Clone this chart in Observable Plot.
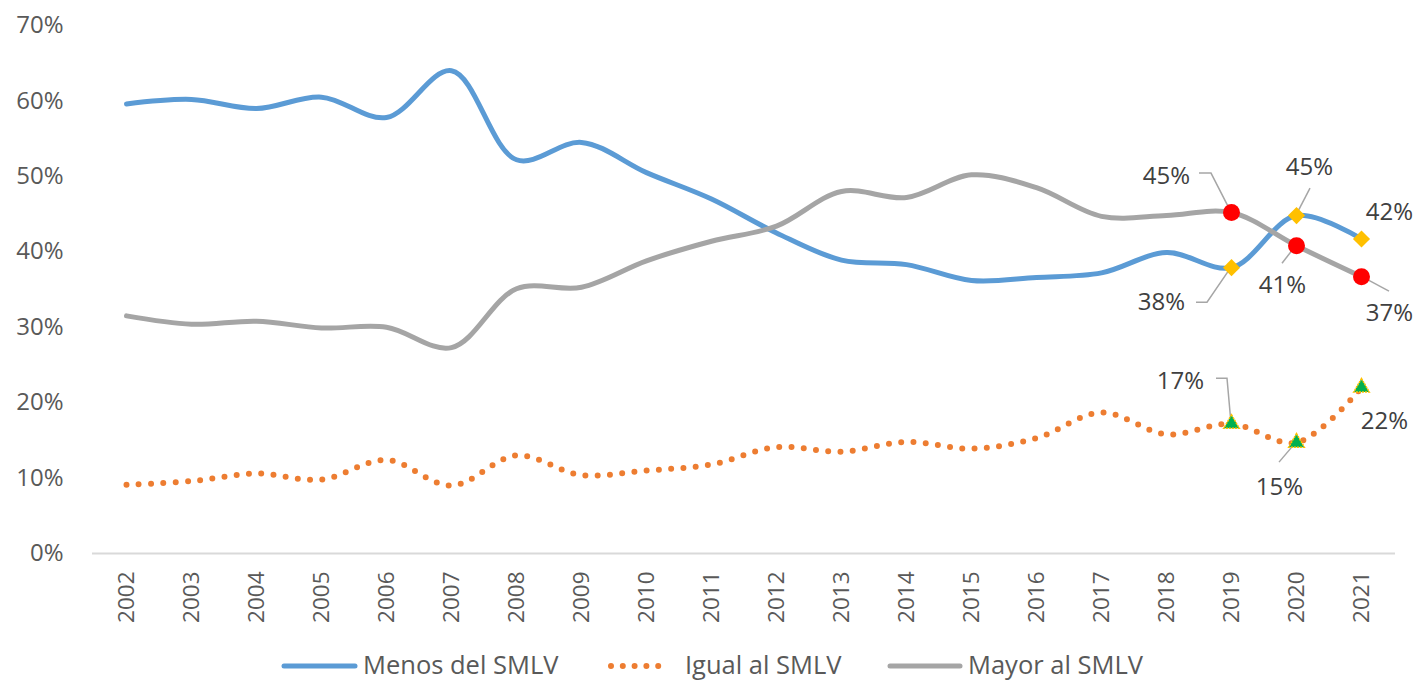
<!DOCTYPE html>
<html><head><meta charset="utf-8">
<script src="https://cdn.jsdelivr.net/npm/d3@7"></script>
<script src="https://cdn.jsdelivr.net/npm/@observablehq/plot@0.6"></script>
<style>
body{margin:0;background:#fff;font-family:"Open Sans",sans-serif;}
#chart{width:1419px;height:682px;position:relative;overflow:hidden;background:#fff}
#legend{position:absolute;left:0;top:640px;width:1419px;height:42px;font-family:"Open Sans",sans-serif;font-size:25.5px;color:#595959;white-space:nowrap}
#legend svg{position:absolute;top:20px}
#legend span{position:absolute;top:25px;transform:translateY(-50%);line-height:1}
</style></head>
<body><div id="chart"><div id="legend"></div></div>
<script>
const years = [2002,2003,2004,2005,2006,2007,2008,2009,2010,2011,2012,2013,2014,2015,2016,2017,2018,2019,2020,2021];
const menos = [0.596,0.602,0.590,0.605,0.578,0.640,0.522,0.545,0.505,0.470,0.425,0.389,0.383,0.362,0.366,0.372,0.399,0.379,0.448,0.417];
const igual = [0.091,0.096,0.106,0.098,0.124,0.090,0.130,0.104,0.110,0.118,0.141,0.135,0.148,0.139,0.153,0.187,0.158,0.172,0.147,0.220];
const mayor = [0.315,0.304,0.308,0.299,0.300,0.273,0.351,0.353,0.388,0.414,0.434,0.480,0.472,0.502,0.485,0.447,0.448,0.452,0.408,0.367];
const seriesKeys = ["menos","igual","mayor"];
const seriesNames = ["Menos del SMLV","Igual al SMLV","Mayor al SMLV"];
const seriesValues = {menos, igual, mayor};
const yTicks = [0,0.1,0.2,0.3,0.4,0.5,0.6,0.7];
const labelYears = [2019,2020,2021];

// label placement (pixel offsets from the point)
const labelLayout = {
  menos: {2019:{dx:-70,dy:35,leader:[[-35,35],[-24,35]]}, 2020:{dx:13,dy:-48,leader:[[14,-27]]}, 2021:{dx:28,dy:-27}},
  igual: {2019:{dx:-51,dy:-42,leader:[[-15,-45],[-4,-45]]}, 2020:{dx:-17,dy:45,leader:[[-17,20]]}, 2021:{dx:23,dy:34}},
  mayor: {2019:{dx:-65,dy:-36,leader:[[-32,-39],[-20,-39]]}, 2020:{dx:-14,dy:40,leader:[[-14,18]]}, 2021:{dx:28,dy:37,leader:[[28,15]]}}
};
const style = {
  menos: {stroke:"#5B9BD5", strokeWidth:5},
  igual: {stroke:"#ED7D31", strokeWidth:6, strokeDasharray:"0 12.3", strokeLinecap:"round"},
  mayor: {stroke:"#A5A5A5", strokeWidth:5}
};
const legendPos = {menos:{sw:284, sw2:355, tx:363}, igual:{sw:611, sw2:670, tx:685}, mayor:{sw:890, sw2:960, tx:968}};

const rows = k => years.map((y,i)=>({year:y, v:seriesValues[k][i]}));
const lastRows = k => rows(k).filter(d => labelYears.includes(d.year));
const annots = [];
for (const k of seriesKeys) for (const r of lastRows(k)) annots.push({key:k, year:r.year, v:r.v, t:Math.round(r.v*100)+"%", ...labelLayout[k][r.year]});

const leaderMark = (index, scales) => {
  const g = d3.create("svg:g");
  for (const a of annots) if (a.leader) {
    const px = scales.x(a.year), py = scales.y(a.v);
    const pts = a.leader.map(([dx,dy]) => `${px+dx},${py+dy}`).join(" ") + ` ${px},${py}`;
    g.append("polyline").attr("points", pts).attr("fill","none").attr("stroke","#A6A6A6").attr("stroke-width",1.5);
  }
  return g.node();
};

const marks = [Plot.ruleY([0], {stroke:"#D9D9D9", strokeWidth:2})];
for (const k of seriesKeys) marks.push(Plot.line(rows(k), {x:"year", y:"v", curve:"catmull-rom", ...style[k]}));
marks.push(leaderMark);
marks.push(Plot.dot(lastRows("menos"), {x:"year", y:"v", symbol:"diamond2", r:7.7, fill:"#FFC000"}));
marks.push(Plot.dot(lastRows("igual"), {x:"year", y:"v", symbol:"triangle", r:5.8, fill:"#00B050", stroke:"#FFC000", strokeWidth:1.5, strokeDasharray:"2 1"}));
marks.push(Plot.dot(lastRows("mayor"), {x:"year", y:"v", symbol:"circle", r:8.5, fill:"#FF0000"}));
for (const a of annots) marks.push(Plot.text([a], {x:"year", y:"v", text:"t", dx:a.dx, dy:a.dy, fill:"#404040", fontSize:24}));

const chart = Plot.plot({
  width:1419, height:640,
  marginLeft:92, marginRight:24, marginTop:25, marginBottom:87,
  style:{fontFamily:"'Open Sans', sans-serif", fontSize:"24px", color:"#595959", background:"white", overflow:"visible"},
  x:{type:"point", domain:years, padding:0.5, label:null, tickSize:0, tickPadding:18, tickRotate:-90, tickFormat:d => String(d)},
  y:{domain:[0,0.7], ticks:yTicks, tickFormat:d3.format(".0%"), label:null, tickSize:0, tickPadding:29},
  marks
});
document.getElementById("chart").prepend(chart);
// x tick labels slightly smaller, as in the reference
chart.querySelectorAll("g[aria-label='x-axis tick label'] text").forEach(t => t.setAttribute("font-size", "22.5"));

const legend = document.getElementById("legend");
seriesKeys.forEach((k,i) => {
  const s = style[k], p = legendPos[k];
  const w = p.sw2 - p.sw + 8;
  const sw = document.createElementNS("http://www.w3.org/2000/svg","svg");
  sw.setAttribute("width", w); sw.setAttribute("height", 12);
  sw.style.left = (p.sw - 4) + "px";
  sw.innerHTML = `<line x1="4" x2="${w-4}" y1="6" y2="6" stroke="${s.stroke}" stroke-width="${s.strokeWidth}" stroke-linecap="round" ${s.strokeDasharray ? `stroke-dasharray="0 11.8"` : ""}/>`;
  legend.appendChild(sw);
  const sp = document.createElement("span");
  sp.textContent = seriesNames[i];
  sp.style.left = p.tx + "px";
  legend.appendChild(sp);
});
</script>
</body></html>
